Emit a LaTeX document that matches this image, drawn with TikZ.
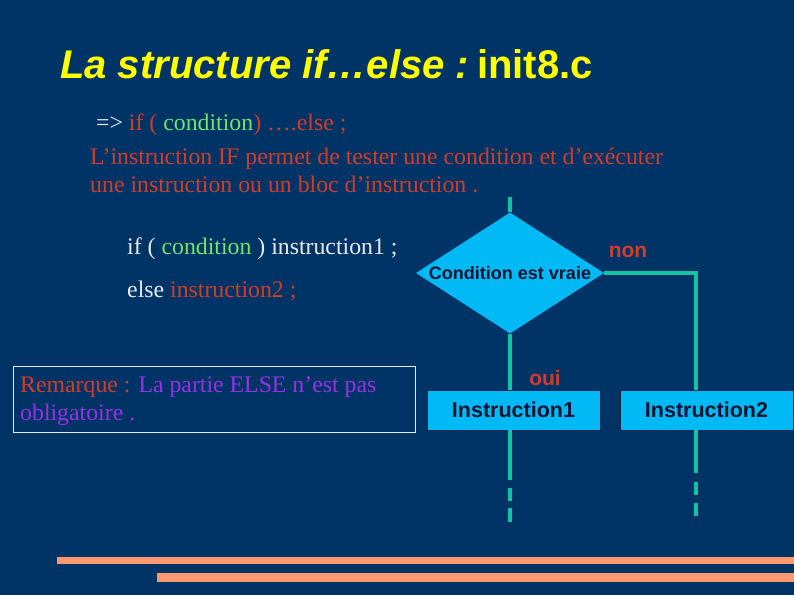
\documentclass[tikz,border=0pt]{standalone}
\usepackage{fontspec}
\setmainfont{Liberation Serif}
\setsansfont{Liberation Sans}
\usetikzlibrary{shapes.geometric}
\definecolor{bg}{RGB}{0,51,102}
\definecolor{ttl}{RGB}{255,255,0}
\definecolor{redt}{RGB}{208,62,42}
\definecolor{greent}{RGB}{110,230,110}
\definecolor{purp}{RGB}{150,50,230}
\definecolor{whitet}{RGB}{235,235,235}
\definecolor{lblue}{RGB}{0,185,245}
\definecolor{teal}{RGB}{20,195,160}
\definecolor{salmon}{RGB}{250,152,112}
\definecolor{boxedge}{RGB}{0,40,80}
\definecolor{darkt}{RGB}{0,20,50}
\tikzset{
  txt/.style={anchor=base west,inner sep=0pt},
  body/.style={txt,font=\fontsize{23.8}{28}\selectfont},
  flow/.style={draw=teal,line width=4pt,line cap=butt},
  instbox/.style={draw=boxedge,thin,fill=lblue,minimum width=173pt,minimum height=40pt,inner sep=0pt,
    font=\sffamily\bfseries\fontsize{21.5}{25}\selectfont,text=darkt},
  lab/.style={font=\sffamily\bfseries\fontsize{21}{25}\selectfont,text=redt,inner sep=0pt}
}
\begin{document}
\begin{tikzpicture}[x=1pt,y=-1pt]
\fill[bg] (0,0) rectangle (794,595);
\useasboundingbox (0,0) rectangle (794,595);
% title
\node[txt,text=ttl,font=\sffamily\bfseries\fontsize{40}{46}\selectfont] (title) at (60,78) {\textit{La structure if…else :}\hspace{0.2em}init8.c};
% intro lines
\node[body] (l1) at (96,130) {\textcolor{whitet}{=>} \textcolor{redt}{if (} \textcolor{greent}{condition}\textcolor{redt}{) ….else ;}};
\node[body,text=redt] (l2) at (90,164) {L’instruction IF permet de tester une condition et d’exécuter};
\node[body,text=redt] (l3) at (90,192) {une instruction ou un bloc d’instruction .};
% code
\node[body,text=whitet] (c1) at (127,254) {if ( \textcolor{greent}{condition} ) instruction1 ;};
\node[body,text=whitet] (c2) at (127,297) {else \textcolor{redt}{instruction2 ;}};
% remark box
\node[draw=whitet,thin,minimum width=402pt,minimum height=66pt,inner sep=0pt] (rem) at (214,399) {};
\node[body] (r1) at (20,392) {\textcolor{redt}{Remarque :} \textcolor{purp}{La partie ELSE n’est pas}};
\node[body,text=purp] (r2) at (20,420) {obligatoire .};
% flowchart
\node[diamond,fill=lblue,minimum width=188pt,minimum height=121pt,inner sep=0pt,aspect=1.55,
  font=\sffamily\bfseries\fontsize{18}{21}\selectfont,text=darkt] (cond) at (510,273) {Condition est vraie};
\node[instbox] (ins1) at (513.5,410) {Instruction1};
\node[instbox] (ins2) at (706.5,410) {Instruction2};
\coordinate (top) at (510,197);
\draw[flow] (top) -- (cond.north);
\draw[flow] (cond.south) -- (cond.south |- ins1.north);
\coordinate (turn) at (696,273);
\draw[flow] (cond.east) -- (turn) -- (turn |- ins2.north);
\coordinate (end1) at (510,522);
\coordinate (end2) at (696,516);
\draw[flow,dash pattern=on 50pt off 8pt on 13pt off 7pt on 14pt off 30pt] (ins1.south -| end1) -- (end1);
\draw[flow,dash pattern=on 43pt off 9pt on 13pt off 8pt on 13pt off 30pt] (ins2.south -| end2) -- (end2);
\node[lab] (non) at (628,252) {non};
\node[lab] (oui) at (545,378) {oui};
% bars
\fill[salmon] (57,557) rectangle (794,564);
\fill[salmon] (157,573) rectangle (794,582);
\end{tikzpicture}
\end{document}
